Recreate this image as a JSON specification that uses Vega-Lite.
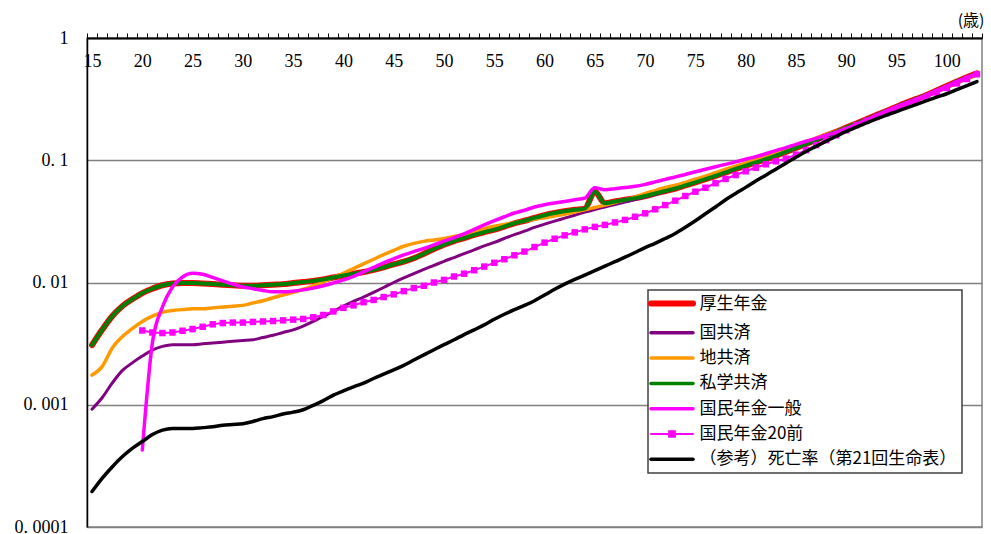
{
"$schema":"https://vega.github.io/schema/vega-lite/v6.json",
"width":895,"height":489,
"autosize":{"type":"none"},
"padding":{"left":87,"top":38,"right":9,"bottom":7},
"background":"white",
"config":{"view":{"stroke":"#808080","strokeWidth":1.5},"font":"Liberation Serif"},
"datasets":{
"kosei":[{"a":15,"v":0.00308},{"a":16,"v":0.0041},{"a":17,"v":0.0053},{"a":18,"v":0.0064},{"a":19,"v":0.0073},{"a":20,"v":0.0082},{"a":21,"v":0.0089},{"a":22,"v":0.0095},{"a":23,"v":0.0098},{"a":24,"v":0.0099},{"a":25,"v":0.0099},{"a":26,"v":0.0098},{"a":27,"v":0.0097},{"a":28,"v":0.0096},{"a":29,"v":0.0095},{"a":30,"v":0.0094},{"a":31,"v":0.0094},{"a":32,"v":0.0095},{"a":33,"v":0.0096},{"a":34,"v":0.0097},{"a":35,"v":0.0099},{"a":36,"v":0.0101},{"a":37,"v":0.0103},{"a":38,"v":0.0106},{"a":39,"v":0.011},{"a":40,"v":0.0114},{"a":41,"v":0.0118},{"a":42,"v":0.0122},{"a":43,"v":0.0127},{"a":44,"v":0.0133},{"a":45,"v":0.0141},{"a":46,"v":0.0148},{"a":47,"v":0.0158},{"a":48,"v":0.0172},{"a":49,"v":0.0188},{"a":50,"v":0.0204},{"a":51,"v":0.0218},{"a":52,"v":0.0231},{"a":53,"v":0.0245},{"a":54,"v":0.0258},{"a":55,"v":0.0271},{"a":56,"v":0.0287},{"a":57,"v":0.0305},{"a":58,"v":0.032},{"a":59,"v":0.0338},{"a":60,"v":0.0355},{"a":61,"v":0.037},{"a":62,"v":0.0383},{"a":63,"v":0.0393},{"a":64,"v":0.0402},{"a":65,"v":0.0553},{"a":66,"v":0.0444},{"a":67,"v":0.046},{"a":68,"v":0.0475},{"a":69,"v":0.049},{"a":70,"v":0.051},{"a":71,"v":0.0535},{"a":72,"v":0.056},{"a":73,"v":0.0587},{"a":74,"v":0.0622},{"a":75,"v":0.066},{"a":76,"v":0.07},{"a":77,"v":0.0745},{"a":78,"v":0.0795},{"a":79,"v":0.085},{"a":80,"v":0.0905},{"a":81,"v":0.096},{"a":82,"v":0.102},{"a":83,"v":0.109},{"a":84,"v":0.117},{"a":85,"v":0.126},{"a":86,"v":0.136},{"a":87,"v":0.147},{"a":88,"v":0.159},{"a":89,"v":0.171},{"a":90,"v":0.185},{"a":91,"v":0.2},{"a":92,"v":0.216},{"a":93,"v":0.234},{"a":94,"v":0.253},{"a":95,"v":0.274},{"a":96,"v":0.296},{"a":97,"v":0.318},{"a":98,"v":0.342},{"a":99,"v":0.372},{"a":100,"v":0.405},{"a":101,"v":0.44},{"a":102,"v":0.477},{"a":103,"v":0.514}],
"kokkyo":[{"a":15,"v":0.00092},{"a":16,"v":0.00114},{"a":17,"v":0.0015},{"a":18,"v":0.0019},{"a":19,"v":0.0022},{"a":20,"v":0.0025},{"a":21,"v":0.0028},{"a":22,"v":0.003},{"a":23,"v":0.0031},{"a":24,"v":0.0031},{"a":25,"v":0.0031},{"a":26,"v":0.00315},{"a":27,"v":0.0032},{"a":28,"v":0.00325},{"a":29,"v":0.0033},{"a":30,"v":0.00335},{"a":31,"v":0.0034},{"a":32,"v":0.00355},{"a":33,"v":0.0037},{"a":34,"v":0.0039},{"a":35,"v":0.0041},{"a":36,"v":0.0044},{"a":37,"v":0.0048},{"a":38,"v":0.0053},{"a":39,"v":0.0058},{"a":40,"v":0.0064},{"a":41,"v":0.007},{"a":42,"v":0.0076},{"a":43,"v":0.0083},{"a":44,"v":0.0091},{"a":45,"v":0.01},{"a":46,"v":0.0109},{"a":47,"v":0.0118},{"a":48,"v":0.0128},{"a":49,"v":0.0138},{"a":50,"v":0.0149},{"a":51,"v":0.016},{"a":52,"v":0.0172},{"a":53,"v":0.0185},{"a":54,"v":0.0199},{"a":55,"v":0.0213},{"a":56,"v":0.0229},{"a":57,"v":0.0246},{"a":58,"v":0.0263},{"a":59,"v":0.0282},{"a":60,"v":0.03},{"a":61,"v":0.0318},{"a":62,"v":0.0336},{"a":63,"v":0.0355},{"a":64,"v":0.0376},{"a":65,"v":0.0396},{"a":66,"v":0.0415},{"a":67,"v":0.0435},{"a":68,"v":0.0455},{"a":69,"v":0.0477},{"a":70,"v":0.05},{"a":71,"v":0.0525},{"a":72,"v":0.0555},{"a":73,"v":0.059},{"a":74,"v":0.0625},{"a":75,"v":0.0665},{"a":76,"v":0.071},{"a":77,"v":0.0758},{"a":78,"v":0.081},{"a":79,"v":0.0865},{"a":80,"v":0.0925},{"a":81,"v":0.0985},{"a":82,"v":0.105},{"a":83,"v":0.112},{"a":84,"v":0.119},{"a":85,"v":0.126},{"a":86,"v":0.134},{"a":87,"v":0.144},{"a":88,"v":0.155},{"a":89,"v":0.167},{"a":90,"v":0.18},{"a":91,"v":0.195},{"a":92,"v":0.21},{"a":93,"v":0.228},{"a":94,"v":0.247},{"a":95,"v":0.267},{"a":96,"v":0.288},{"a":97,"v":0.31},{"a":98,"v":0.334},{"a":99,"v":0.362},{"a":100,"v":0.393},{"a":101,"v":0.428},{"a":102,"v":0.465},{"a":103,"v":0.502}],
"chikyo":[{"a":15,"v":0.00175},{"a":16,"v":0.00205},{"a":17,"v":0.0029},{"a":18,"v":0.0036},{"a":19,"v":0.0042},{"a":20,"v":0.0048},{"a":21,"v":0.0053},{"a":22,"v":0.0057},{"a":23,"v":0.0059},{"a":24,"v":0.006},{"a":25,"v":0.0061},{"a":26,"v":0.0061},{"a":27,"v":0.0062},{"a":28,"v":0.0063},{"a":29,"v":0.0064},{"a":30,"v":0.0065},{"a":31,"v":0.0068},{"a":32,"v":0.0071},{"a":33,"v":0.0075},{"a":34,"v":0.0079},{"a":35,"v":0.0083},{"a":36,"v":0.0088},{"a":37,"v":0.0094},{"a":38,"v":0.0101},{"a":39,"v":0.011},{"a":40,"v":0.0119},{"a":41,"v":0.013},{"a":42,"v":0.0142},{"a":43,"v":0.0155},{"a":44,"v":0.0169},{"a":45,"v":0.0183},{"a":46,"v":0.0198},{"a":47,"v":0.0209},{"a":48,"v":0.0217},{"a":49,"v":0.0223},{"a":50,"v":0.0229},{"a":51,"v":0.0238},{"a":52,"v":0.0248},{"a":53,"v":0.0262},{"a":54,"v":0.0276},{"a":55,"v":0.0288},{"a":56,"v":0.0298},{"a":57,"v":0.0308},{"a":58,"v":0.0318},{"a":59,"v":0.0329},{"a":60,"v":0.0339},{"a":61,"v":0.035},{"a":62,"v":0.0362},{"a":63,"v":0.0377},{"a":64,"v":0.0393},{"a":65,"v":0.0411},{"a":66,"v":0.043},{"a":67,"v":0.0451},{"a":68,"v":0.0475},{"a":69,"v":0.05},{"a":70,"v":0.0535},{"a":71,"v":0.0565},{"a":72,"v":0.06},{"a":73,"v":0.0625},{"a":74,"v":0.066},{"a":75,"v":0.07},{"a":76,"v":0.074},{"a":77,"v":0.079},{"a":78,"v":0.0845},{"a":79,"v":0.0895},{"a":80,"v":0.095},{"a":81,"v":0.101},{"a":82,"v":0.107},{"a":83,"v":0.114},{"a":84,"v":0.122},{"a":85,"v":0.132},{"a":86,"v":0.142},{"a":87,"v":0.152},{"a":88,"v":0.163},{"a":89,"v":0.173},{"a":90,"v":0.185},{"a":91,"v":0.198},{"a":92,"v":0.214},{"a":93,"v":0.231},{"a":94,"v":0.25},{"a":95,"v":0.27},{"a":96,"v":0.29},{"a":97,"v":0.312},{"a":98,"v":0.336},{"a":99,"v":0.364},{"a":100,"v":0.395},{"a":101,"v":0.43},{"a":102,"v":0.467},{"a":103,"v":0.505}],
"shigaku":[{"a":15,"v":0.00308},{"a":16,"v":0.0041},{"a":17,"v":0.0053},{"a":18,"v":0.0064},{"a":19,"v":0.0073},{"a":20,"v":0.0082},{"a":21,"v":0.0089},{"a":22,"v":0.0095},{"a":23,"v":0.0098},{"a":24,"v":0.0099},{"a":25,"v":0.0099},{"a":26,"v":0.0098},{"a":27,"v":0.0097},{"a":28,"v":0.0096},{"a":29,"v":0.0095},{"a":30,"v":0.0094},{"a":31,"v":0.0094},{"a":32,"v":0.0095},{"a":33,"v":0.0096},{"a":34,"v":0.0097},{"a":35,"v":0.0099},{"a":36,"v":0.0101},{"a":37,"v":0.0103},{"a":38,"v":0.0106},{"a":39,"v":0.011},{"a":40,"v":0.0114},{"a":41,"v":0.0118},{"a":42,"v":0.0122},{"a":43,"v":0.0127},{"a":44,"v":0.0133},{"a":45,"v":0.0141},{"a":46,"v":0.0148},{"a":47,"v":0.0158},{"a":48,"v":0.0172},{"a":49,"v":0.0188},{"a":50,"v":0.0204},{"a":51,"v":0.0218},{"a":52,"v":0.0231},{"a":53,"v":0.0245},{"a":54,"v":0.0258},{"a":55,"v":0.0271},{"a":56,"v":0.0287},{"a":57,"v":0.0305},{"a":58,"v":0.032},{"a":59,"v":0.0338},{"a":60,"v":0.0355},{"a":61,"v":0.037},{"a":62,"v":0.0383},{"a":63,"v":0.0393},{"a":64,"v":0.0402},{"a":65,"v":0.0553},{"a":66,"v":0.0444},{"a":67,"v":0.046},{"a":68,"v":0.0475},{"a":69,"v":0.049},{"a":70,"v":0.051},{"a":71,"v":0.0535},{"a":72,"v":0.056},{"a":73,"v":0.0587},{"a":74,"v":0.0622},{"a":75,"v":0.066},{"a":76,"v":0.07},{"a":77,"v":0.0745},{"a":78,"v":0.0795},{"a":79,"v":0.085},{"a":80,"v":0.0905},{"a":81,"v":0.096},{"a":82,"v":0.102},{"a":83,"v":0.109},{"a":84,"v":0.117},{"a":85,"v":0.126},{"a":86,"v":0.136},{"a":87,"v":0.147},{"a":88,"v":0.159},{"a":89,"v":0.171},{"a":90,"v":0.185},{"a":91,"v":0.2},{"a":92,"v":0.216},{"a":93,"v":0.234},{"a":94,"v":0.253},{"a":95,"v":0.274},{"a":96,"v":0.296},{"a":97,"v":0.318},{"a":98,"v":0.342},{"a":99,"v":0.372},{"a":100,"v":0.405},{"a":101,"v":0.44},{"a":102,"v":0.477},{"a":103,"v":0.514}],
"kokumin":[{"a":20,"v":0.000427},{"a":21,"v":0.0032},{"a":22,"v":0.0063},{"a":23,"v":0.0092},{"a":24,"v":0.0111},{"a":25,"v":0.0119},{"a":26,"v":0.0117},{"a":27,"v":0.011},{"a":28,"v":0.0103},{"a":29,"v":0.0097},{"a":30,"v":0.0092},{"a":31,"v":0.0089},{"a":32,"v":0.0086},{"a":33,"v":0.0084},{"a":34,"v":0.0084},{"a":35,"v":0.0085},{"a":36,"v":0.0087},{"a":37,"v":0.009},{"a":38,"v":0.0094},{"a":39,"v":0.0099},{"a":40,"v":0.0105},{"a":41,"v":0.0112},{"a":42,"v":0.0122},{"a":43,"v":0.0133},{"a":44,"v":0.0145},{"a":45,"v":0.0156},{"a":46,"v":0.0168},{"a":47,"v":0.0179},{"a":48,"v":0.019},{"a":49,"v":0.0203},{"a":50,"v":0.0218},{"a":51,"v":0.0233},{"a":52,"v":0.025},{"a":53,"v":0.0272},{"a":54,"v":0.0296},{"a":55,"v":0.032},{"a":56,"v":0.0345},{"a":57,"v":0.037},{"a":58,"v":0.039},{"a":59,"v":0.0415},{"a":60,"v":0.0433},{"a":61,"v":0.0447},{"a":62,"v":0.046},{"a":63,"v":0.0475},{"a":64,"v":0.049},{"a":65,"v":0.0595},{"a":66,"v":0.0575},{"a":67,"v":0.0585},{"a":68,"v":0.0598},{"a":69,"v":0.0612},{"a":70,"v":0.0635},{"a":71,"v":0.0665},{"a":72,"v":0.0698},{"a":73,"v":0.073},{"a":74,"v":0.0765},{"a":75,"v":0.0805},{"a":76,"v":0.0845},{"a":77,"v":0.0885},{"a":78,"v":0.0925},{"a":79,"v":0.097},{"a":80,"v":0.102},{"a":81,"v":0.107},{"a":82,"v":0.113},{"a":83,"v":0.12},{"a":84,"v":0.127},{"a":85,"v":0.135},{"a":86,"v":0.143},{"a":87,"v":0.151},{"a":88,"v":0.16},{"a":89,"v":0.17},{"a":90,"v":0.182},{"a":91,"v":0.197},{"a":92,"v":0.214},{"a":93,"v":0.233},{"a":94,"v":0.253},{"a":95,"v":0.274},{"a":96,"v":0.296},{"a":97,"v":0.318},{"a":98,"v":0.343},{"a":99,"v":0.373},{"a":100,"v":0.405},{"a":101,"v":0.44},{"a":102,"v":0.477},{"a":103,"v":0.514}],
"kokumin20":[{"a":20,"v":0.00405},{"a":21,"v":0.0039},{"a":22,"v":0.00386},{"a":23,"v":0.0039},{"a":24,"v":0.00403},{"a":25,"v":0.00416},{"a":26,"v":0.00434},{"a":27,"v":0.00455},{"a":28,"v":0.00466},{"a":29,"v":0.0047},{"a":30,"v":0.0047},{"a":31,"v":0.00476},{"a":32,"v":0.0048},{"a":33,"v":0.00484},{"a":34,"v":0.0049},{"a":35,"v":0.00497},{"a":36,"v":0.00503},{"a":37,"v":0.00519},{"a":38,"v":0.00542},{"a":39,"v":0.0058},{"a":40,"v":0.0062},{"a":41,"v":0.0065},{"a":42,"v":0.0069},{"a":43,"v":0.0072},{"a":44,"v":0.0076},{"a":45,"v":0.008},{"a":46,"v":0.0085},{"a":47,"v":0.009},{"a":48,"v":0.0094},{"a":49,"v":0.01},{"a":50,"v":0.0105},{"a":51,"v":0.0112},{"a":52,"v":0.0118},{"a":53,"v":0.0126},{"a":54,"v":0.0135},{"a":55,"v":0.0145},{"a":56,"v":0.0155},{"a":57,"v":0.0167},{"a":58,"v":0.0179},{"a":59,"v":0.0195},{"a":60,"v":0.0212},{"a":61,"v":0.0228},{"a":62,"v":0.0243},{"a":63,"v":0.0257},{"a":64,"v":0.0272},{"a":65,"v":0.0285},{"a":66,"v":0.0296},{"a":67,"v":0.031},{"a":68,"v":0.0325},{"a":69,"v":0.0345},{"a":70,"v":0.0368},{"a":71,"v":0.0397},{"a":72,"v":0.043},{"a":73,"v":0.0467},{"a":74,"v":0.051},{"a":75,"v":0.0553},{"a":76,"v":0.0596},{"a":77,"v":0.0648},{"a":78,"v":0.0703},{"a":79,"v":0.0757},{"a":80,"v":0.0812},{"a":81,"v":0.0869},{"a":82,"v":0.0927},{"a":83,"v":0.098},{"a":84,"v":0.103},{"a":85,"v":0.111},{"a":86,"v":0.121},{"a":87,"v":0.133},{"a":88,"v":0.146},{"a":89,"v":0.16},{"a":90,"v":0.176},{"a":91,"v":0.194},{"a":92,"v":0.21},{"a":93,"v":0.226},{"a":94,"v":0.243},{"a":95,"v":0.262},{"a":96,"v":0.283},{"a":97,"v":0.305},{"a":98,"v":0.33},{"a":99,"v":0.358},{"a":100,"v":0.39},{"a":101,"v":0.425},{"a":102,"v":0.462},{"a":103,"v":0.505}],
"shibo":[{"a":15,"v":0.000195},{"a":16,"v":0.00025},{"a":17,"v":0.00031},{"a":18,"v":0.000375},{"a":19,"v":0.00044},{"a":20,"v":0.0005},{"a":21,"v":0.00057},{"a":22,"v":0.00062},{"a":23,"v":0.00064},{"a":24,"v":0.00064},{"a":25,"v":0.00064},{"a":26,"v":0.00065},{"a":27,"v":0.00066},{"a":28,"v":0.00068},{"a":29,"v":0.00069},{"a":30,"v":0.0007},{"a":31,"v":0.00073},{"a":32,"v":0.00077},{"a":33,"v":0.0008},{"a":34,"v":0.00084},{"a":35,"v":0.00087},{"a":36,"v":0.00091},{"a":37,"v":0.00099},{"a":38,"v":0.00108},{"a":39,"v":0.0012},{"a":40,"v":0.0013},{"a":41,"v":0.0014},{"a":42,"v":0.0015},{"a":43,"v":0.00164},{"a":44,"v":0.00178},{"a":45,"v":0.00193},{"a":46,"v":0.0021},{"a":47,"v":0.00232},{"a":48,"v":0.00256},{"a":49,"v":0.00282},{"a":50,"v":0.0031},{"a":51,"v":0.0034},{"a":52,"v":0.00375},{"a":53,"v":0.0041},{"a":54,"v":0.0045},{"a":55,"v":0.005},{"a":56,"v":0.0055},{"a":57,"v":0.006},{"a":58,"v":0.0065},{"a":59,"v":0.0071},{"a":60,"v":0.0079},{"a":61,"v":0.0088},{"a":62,"v":0.0097},{"a":63,"v":0.0106},{"a":64,"v":0.0115},{"a":65,"v":0.0125},{"a":66,"v":0.0136},{"a":67,"v":0.0148},{"a":68,"v":0.0161},{"a":69,"v":0.0176},{"a":70,"v":0.0193},{"a":71,"v":0.0209},{"a":72,"v":0.0229},{"a":73,"v":0.0252},{"a":74,"v":0.0283},{"a":75,"v":0.032},{"a":76,"v":0.0365},{"a":77,"v":0.0415},{"a":78,"v":0.0475},{"a":79,"v":0.0535},{"a":80,"v":0.06},{"a":81,"v":0.0675},{"a":82,"v":0.0755},{"a":83,"v":0.0845},{"a":84,"v":0.0945},{"a":85,"v":0.106},{"a":86,"v":0.118},{"a":87,"v":0.13},{"a":88,"v":0.143},{"a":89,"v":0.157},{"a":90,"v":0.172},{"a":91,"v":0.187},{"a":92,"v":0.202},{"a":93,"v":0.218},{"a":94,"v":0.234},{"a":95,"v":0.25},{"a":96,"v":0.268},{"a":97,"v":0.287},{"a":98,"v":0.307},{"a":99,"v":0.328},{"a":100,"v":0.35},{"a":101,"v":0.378},{"a":102,"v":0.408},{"a":103,"v":0.44}]
},
"encoding":{
"x":{"field":"a","type":"quantitative","scale":{"domain":[14.5,103.5],"nice":false,"zero":false},
"axis":{"orient":"top","values":[14.5,15.5,16.5,17.5,18.5,19.5,20.5,21.5,22.5,23.5,24.5,25.5,26.5,27.5,28.5,29.5,30.5,31.5,32.5,33.5,34.5,35.5,36.5,37.5,38.5,39.5,40.5,41.5,42.5,43.5,44.5,45.5,46.5,47.5,48.5,49.5,50.5,51.5,52.5,53.5,54.5,55.5,56.5,57.5,58.5,59.5,60.5,61.5,62.5,63.5,64.5,65.5,66.5,67.5,68.5,69.5,70.5,71.5,72.5,73.5,74.5,75.5,76.5,77.5,78.5,79.5,80.5,81.5,82.5,83.5,84.5,85.5,86.5,87.5,88.5,89.5,90.5,91.5,92.5,93.5,94.5,95.5,96.5,97.5,98.5,99.5,100.5,101.5,102.5,103.5],
"labelExpr":"(datum.value+0.5)%5==0 ? format(datum.value+0.5,'d') : ''",
"labelOffset":5,"labelPadding":-28,"labelBaseline":"middle","labelFontSize":18,"labelFont":"Liberation Serif, DejaVu Serif, serif","labelColor":"#000",
"tickSize":5,"tickColor":"#000","tickWidth":1,"domainColor":"#000","domainWidth":2,"grid":false,
"labelOverlap":false,"labelFlush":false,"labelBound":false,
"title":"(歳)","titleFont":"Noto Sans CJK JP","titleFontSize":16,"titleFontWeight":"normal","titleColor":"#000",
"titleAnchor":"end","titleAlign":"right","titleX":897,"titleY":-18,"titleBaseline":"middle"}},
"y":{"field":"v","type":"quantitative","scale":{"type":"log","domain":[0.0001,1],"nice":false},
"axis":{"values":[1,0.1,0.01,0.001,0.0001],
"labelExpr":"datum.value==1?'1':datum.value==0.1?'0. 1':datum.value==0.01?'0. 01':datum.value==0.001?'0. 001':'0. 0001'",
"ticks":false,"labelPadding":19,"labelFontSize":18,"labelFont":"Liberation Serif, DejaVu Serif, serif","labelColor":"#000",
"domainColor":"#000","domainWidth":1.5,"gridColor":"#808080","gridWidth":1.5,"title":null,
"labelOverlap":false,"labelFlush":false,"labelBound":false}}
},
"layer":[
{"data":{"name":"kosei"},"mark":{"type":"line","strokeWidth":6,"interpolate":"monotone","strokeCap":"round","strokeJoin":"round"},
"encoding":{"color":{"datum":"厚生年金","type":"nominal",
"scale":{"domain":["厚生年金","国共済","地共済","私学共済","国民年金一般","国民年金20前","（参考）死亡率（第21回生命表）"],"range":["#FF0000","#800080","#FF9900","#008000","#FF00FF","#FF00FF","#000000"]},
"legend":{"orient":"none","legendX":561,"legendY":252,"title":null,"symbolType":"M-2,0H2","symbolSize":441,"symbolStrokeWidth":3,
"labelFont":"Noto Sans CJK JP","labelFontSize":17,"labelColor":"#000","labelLimit":400,"padding":5,"rowPadding":7.3,
"strokeColor":"#404040","fillColor":"white","symbolOffset":10.5,"labelOffset":19,
"encode":{"legend":{"update":{"strokeWidth":{"value":1.5}}},
"symbols":{"update":{"shape":{"signal":"datum.value === '国民年金20前' ? 'M-2,0H2M-0.27,-0.27H0.27V0.27H-0.27Z' : 'M-2,0H2'"},
"fill":{"signal":"datum.value === '国民年金20前' ? '#FF00FF' : 'transparent'"},
"strokeWidth":{"signal":"datum.value === '厚生年金' ? 6 : datum.value === '国民年金20前' ? 2 : 3.5"},
"strokeCap":{"value":"round"},"opacity":{"value":1}}}}}}}},
{"data":{"name":"kokkyo"},"mark":{"type":"line","strokeWidth":3,"interpolate":"monotone","strokeCap":"round"},"encoding":{"color":{"datum":"国共済","type":"nominal"}}},
{"data":{"name":"chikyo"},"mark":{"type":"line","strokeWidth":3.5,"interpolate":"monotone","strokeCap":"round"},"encoding":{"color":{"datum":"地共済","type":"nominal"}}},
{"data":{"name":"shigaku"},"mark":{"type":"line","strokeWidth":4,"interpolate":"monotone","strokeCap":"round","strokeJoin":"round"},"encoding":{"color":{"datum":"私学共済","type":"nominal"}}},
{"data":{"name":"kokumin"},"mark":{"type":"line","strokeWidth":3.5,"interpolate":"monotone","strokeCap":"round"},"encoding":{"color":{"datum":"国民年金一般","type":"nominal"}}},
{"data":{"name":"kokumin20"},"mark":{"type":"line","strokeWidth":2},"encoding":{"color":{"datum":"国民年金20前","type":"nominal"}}},
{"data":{"name":"kokumin20"},"mark":{"type":"point","shape":"square","filled":true,"size":42,"opacity":1},"encoding":{"color":{"datum":"国民年金20前","type":"nominal"}}},
{"data":{"name":"shibo"},"mark":{"type":"line","strokeWidth":3.5,"interpolate":"monotone","strokeCap":"round"},"encoding":{"color":{"datum":"（参考）死亡率（第21回生命表）","type":"nominal"}}}
]
}
